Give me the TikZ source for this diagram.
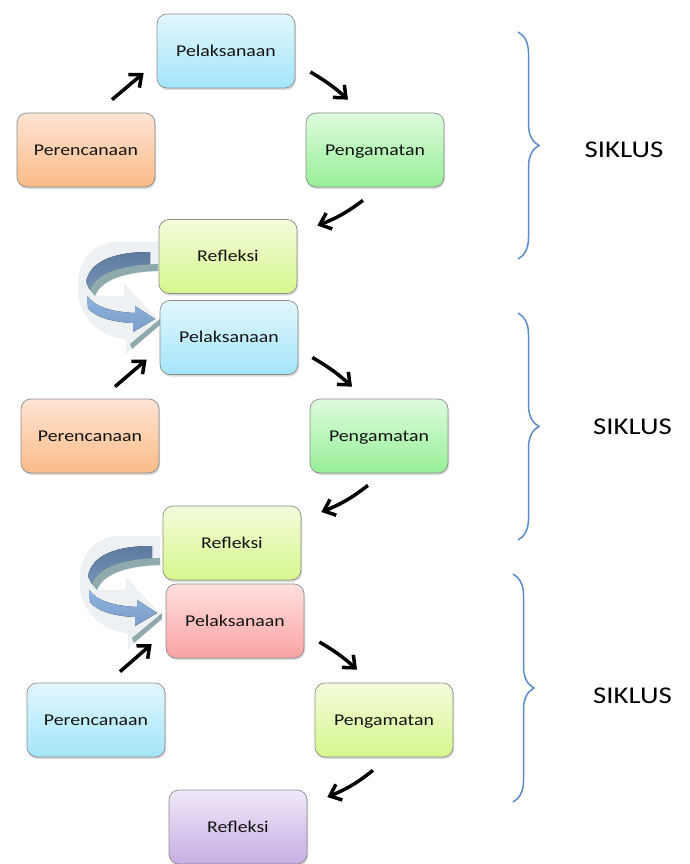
\documentclass[tikz,border=0pt]{standalone}
\usepackage{fontspec}
\setmainfont{Carlito}
\newfontfamily\boxfont[FakeStretch=1.2]{Carlito}
\usetikzlibrary{arrows.meta,shadows,decorations.pathreplacing}

\definecolor{bluetop}{HTML}{E2F7FE}
\definecolor{bluebot}{HTML}{A3E5F9}
\definecolor{orangetop}{HTML}{FDE4D3}
\definecolor{orangebot}{HTML}{FBBB88}
\definecolor{greentop}{HTML}{DDFBDD}
\definecolor{greenbot}{HTML}{97EF97}
\definecolor{limetop}{HTML}{F3FCDC}
\definecolor{limebot}{HTML}{D6F78C}
\definecolor{redtop}{HTML}{FFDEDE}
\definecolor{redbot}{HTML}{FBA3A3}
\definecolor{purpletop}{HTML}{F0E9F9}
\definecolor{purplebot}{HTML}{C5ADE3}
\definecolor{braceblue}{HTML}{5B8BC8}
\definecolor{halo}{HTML}{EEF1F4}
\definecolor{darkarm}{HTML}{6787B0}
\definecolor{lightarm}{HTML}{8DB3E2}
\definecolor{tealside}{HTML}{8FAAAD}

\tikzset{
	stage/.style={draw=gray!90, line width=0.7pt, rounded corners=10pt,
		minimum width=138pt, minimum height=74pt, text height=10.6pt, text depth=0pt,
		font=\boxfont\fontsize{16.5pt}{19pt}\selectfont, text=black!92,
		drop shadow={shadow xshift=1pt, shadow yshift=-2pt, opacity=0.3}},
	bluebox/.style={stage, top color=bluetop, bottom color=bluebot},
	orangebox/.style={stage, top color=orangetop, bottom color=orangebot},
	greenbox/.style={stage, top color=greentop, bottom color=greenbot},
	limebox/.style={stage, top color=limetop, bottom color=limebot},
	redbox/.style={stage, top color=redtop, bottom color=redbot},
	purplebox/.style={stage, top color=purpletop, bottom color=purplebot},
	cycarrow/.style={line width=3.5pt, -{Straight Barb[length=10pt,width=17pt]}},
	siklusbrace/.style={draw=braceblue, line width=1.5pt, decorate,
		decoration={brace, amplitude=21pt, aspect=0.5}},
	sikluslabel/.style={font=\boxfont\fontsize{24pt}{28pt}\selectfont, text=black},
	uturn/.pic={
		\fill[halo, draw=gray!15] (158,242) -- (118,242) .. controls (92,243) and (78,262) .. (78,287)
			.. controls (78,318) and (100,336) .. (126,339) -- (126,354) -- (160,322) -- (124,284)
			-- (124,296) .. controls (110,296) and (100,296) .. (96,296)
			.. controls (100,282) and (120,273) .. (158,271) -- cycle;
		\fill[top color=darkarm!90!black, bottom color=darkarm!90!white]
			(150,252) .. controls (112,252) and (90,262) .. (86,282) -- (90,290)
			.. controls (96,275) and (115,266) .. (150,265) -- cycle;
		\fill[tealside] (158,264) .. controls (115,265) and (95,276) .. (90,290) -- (95,296)
			.. controls (100,282) and (120,272) .. (158,271) -- cycle;
		\fill[top color=lightarm, bottom color=lightarm!88!black]
			(87,296) .. controls (95,307) and (112,312) .. (135,313) -- (135,306) -- (155,319)
			-- (133,332) -- (133,323) .. controls (110,322) and (94,316) .. (88,308) -- cycle;
		\fill[tealside] (160,319) -- (160,325) -- (132,349) -- (130,344) -- cycle;
	}
}

\begin{document}
\begin{tikzpicture}[x=1pt,y=-1pt]
	\useasboundingbox (0,0) rectangle (689,864);

	%U-turn arrows
	\pic at (0,0) {uturn};
	\pic at (2,294) {uturn};

	%cycle 1
	\node[bluebox] (pel1) at (226,51) {Pelaksanaan};
	\node[orangebox] (per1) at (86,150) {Perencanaan};
	\node[greenbox] (pen1) at (375,150) {Pengamatan};
	\node[limebox] (ref1) at (228,256.5) {Refleksi};

	%cycle 2
	\node[bluebox] (pel2) at (229,337.5) {Pelaksanaan};
	\node[orangebox] (per2) at (90,436) {Perencanaan};
	\node[greenbox] (pen2) at (379,436) {Pengamatan};
	\node[limebox] (ref2) at (232,543) {Refleksi};

	%cycle 3
	\node[redbox] (pel3) at (235,621) {Pelaksanaan};
	\node[bluebox] (per3) at (96,720) {Perencanaan};
	\node[limebox] (pen3) at (384,720) {Pengamatan};
	\node[purplebox] (ref3) at (238,827) {Refleksi};

	%arrows
	\draw[cycarrow] ([shift={(26,-13)}]per1.north) -- ([shift={(-13,22)}]pel1.west);
	\draw[cycarrow] ([shift={(15,21)}]pel1.east) to[bend left=6] ([shift={(-27,-13)}]pen1.north);
	\draw[cycarrow] ([shift={(-12,13)}]pen1.south) to[bend left=8] ([shift={(20,-31)}]ref1.east);

	\draw[cycarrow] ([shift={(25,-12)}]per2.north) -- ([shift={(-13,22)}]pel2.west);
	\draw[cycarrow] ([shift={(14,20)}]pel2.east) to[bend left=6] ([shift={(-27,-12)}]pen2.north);
	\draw[cycarrow] ([shift={(-11,12)}]pen2.south) to[bend left=8] ([shift={(20,-31)}]ref2.east);

	\draw[cycarrow] ([shift={(24,-11)}]per3.north) -- ([shift={(-14,23)}]pel3.west);
	\draw[cycarrow] ([shift={(15,21)}]pel3.east) to[bend left=6] ([shift={(-27,-13)}]pen3.north);
	\draw[cycarrow] ([shift={(-11,13)}]pen3.south) to[bend left=8] ([shift={(20,-30)}]ref3.east);

	%braces
	\coordinate (br1t) at (518,32);
	\coordinate (br1b) at (518,259);
	\coordinate (br2t) at (518,313);
	\coordinate (br2b) at (518,540);
	\coordinate (br3t) at (513,574);
	\coordinate (br3b) at (513,802);
	\draw[siklusbrace] (br1t) -- (br1b);
	\draw[siklusbrace] (br2t) -- (br2b);
	\draw[siklusbrace] (br3t) -- (br3b);

	\node[sikluslabel] (sik1) at (624,149.5) {SIKLUS};
	\node[sikluslabel] (sik2) at (632.5,427) {SIKLUS};
	\node[sikluslabel] (sik3) at (632.5,695.5) {SIKLUS};

\end{tikzpicture}
\end{document}
